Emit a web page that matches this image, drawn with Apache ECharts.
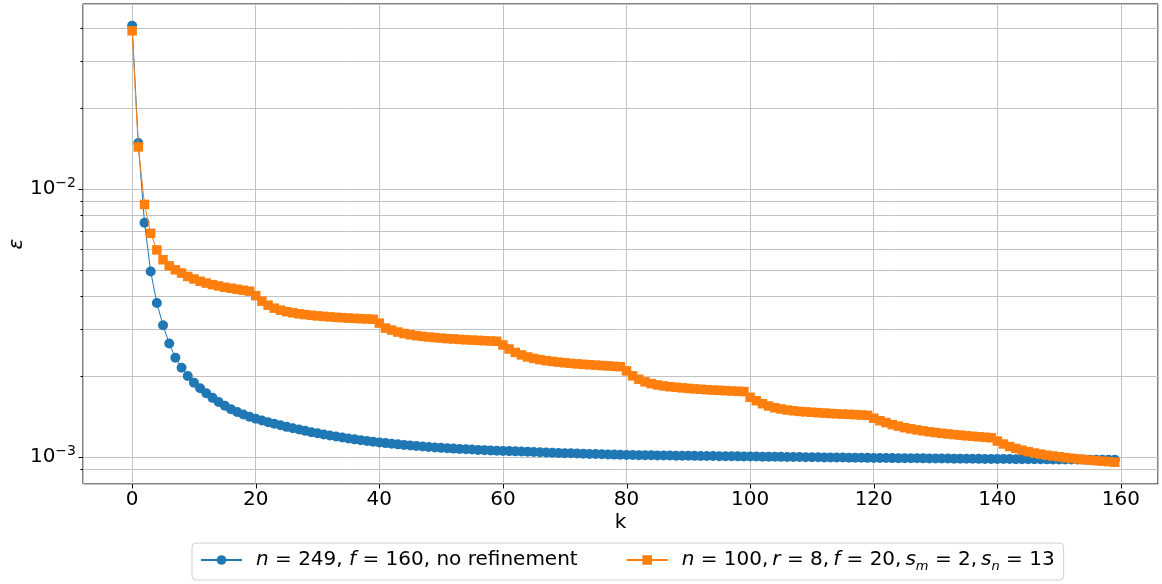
<!DOCTYPE html>
<html><head><meta charset="utf-8">
<script src="https://cdn.jsdelivr.net/npm/echarts@6/dist/echarts.min.js"></script>
<style>html,body{margin:0;padding:0;background:#fff}#c{width:1162px;height:584px}</style>
</head><body><div id="c"></div>
<script>
const seriesNames = ['n = 249, f = 160, no refinement', 'n = 100, r = 8, f = 20, s_m = 2, s_n = 13'];

const blueValues = [
0.0407, 0.01486, 0.00749, 0.004927, 0.003759, 0.003102, 0.002653, 0.002347, 0.002155, 0.002005,
0.001895, 0.001806, 0.001729, 0.001663, 0.001605, 0.001553, 0.001508, 0.001473, 0.001442, 0.001414,
0.001390, 0.001369, 0.001349, 0.001331, 0.001313, 0.001296, 0.001280, 0.001266, 0.001252, 0.001238,
0.001226, 0.001214, 0.001203, 0.001192, 0.001183, 0.001173, 0.001164, 0.001156, 0.001148, 0.001141,
0.001134, 0.001127, 0.001121, 0.001115, 0.001110, 0.001104, 0.001100, 0.001095, 0.001090, 0.001086,
0.001082, 0.001079, 0.001075, 0.001072, 0.001069, 0.001066, 0.001063, 0.001061, 0.001058, 0.001056,
0.001054, 0.001052, 0.001050, 0.001048, 0.001046, 0.001044, 0.001042, 0.001040, 0.001038, 0.001036,
0.001034, 0.0010325, 0.0010307, 0.001029, 0.0010273, 0.0010256, 0.001024, 0.0010224, 0.0010208, 0.0010192,
0.0010176, 0.001017, 0.0010162, 0.0010155, 0.0010148, 0.0010141, 0.0010134, 0.0010127, 0.001012, 0.0010113,
0.0010106, 0.00101, 0.0010093, 0.0010087, 0.0010081, 0.0010075, 0.0010069, 0.0010063, 0.0010057, 0.0010051,
0.0010045, 0.0010039, 0.0010032, 0.0010026, 0.0010019, 0.0010013, 0.0010006, 0.001, 0.0009994, 0.0009987,
0.0009981, 0.0009975, 0.0009969, 0.0009963, 0.0009957, 0.0009951, 0.0009945, 0.0009939, 0.0009933, 0.0009927,
0.0009921, 0.0009916, 0.0009912, 0.0009907, 0.0009903, 0.0009898, 0.0009894, 0.0009889, 0.0009885, 0.000988,
0.0009876, 0.0009871, 0.0009867, 0.0009862, 0.0009858, 0.0009853, 0.0009849, 0.0009844, 0.000984, 0.0009835,
0.0009831, 0.0009827, 0.0009824, 0.000982, 0.0009816, 0.0009813, 0.0009809, 0.0009805, 0.0009802, 0.0009798,
0.0009794, 0.0009791, 0.0009787, 0.0009783, 0.000978, 0.0009776, 0.0009772, 0.0009769, 0.0009765, 0.0009761
];

const orangeValues = [
0.0390, 0.01437, 0.00877, 0.00684, 0.00593, 0.00545, 0.00517, 0.0050, 0.00486, 0.00472,
0.00462, 0.00453, 0.00446, 0.0044, 0.00435, 0.0043, 0.004266, 0.00423, 0.004194, 0.00416,
0.004002, 0.003818, 0.003689, 0.003595, 0.003534, 0.003489, 0.003454, 0.003424, 0.003401, 0.003381,
0.003363, 0.003349, 0.003335, 0.003323, 0.003312, 0.003301, 0.003292, 0.003284, 0.003276, 0.003267,
0.003161, 0.00303, 0.002978, 0.002928, 0.002891, 0.002861, 0.002839, 0.00282, 0.002805, 0.002791,
0.002779, 0.002767, 0.002758, 0.002748, 0.002739, 0.002732, 0.002725, 0.002718, 0.002711, 0.002704,
0.002619, 0.002531, 0.002457, 0.002405, 0.002363, 0.002333, 0.002309, 0.002289, 0.002274, 0.00226,
0.002248, 0.002237, 0.002227, 0.002218, 0.00221, 0.002203, 0.002195, 0.002188, 0.00218, 0.002173,
0.002097, 0.002009, 0.00195, 0.001908, 0.001879, 0.001858, 0.001843, 0.00183, 0.001821, 0.001812,
0.001804, 0.001796, 0.00179, 0.001784, 0.001778, 0.001773, 0.001769, 0.001764, 0.00176, 0.001755,
0.001671, 0.001622, 0.001581, 0.00155, 0.001527, 0.001511, 0.001498, 0.001488, 0.00148, 0.001474,
0.001469, 0.001464, 0.001459, 0.001454, 0.00145, 0.001446, 0.001443, 0.001439, 0.001435, 0.001431,
0.001396, 0.001366, 0.001344, 0.001321, 0.001304, 0.001287, 0.001274, 0.001262, 0.001252, 0.001242,
0.001234, 0.001226, 0.001219, 0.001213, 0.001207, 0.0012, 0.001195, 0.00119, 0.001185, 0.00118,
0.001147, 0.001118, 0.001094, 0.001076, 0.00106, 0.001047, 0.001035, 0.001025, 0.001016, 0.001009,
0.001002, 0.000995, 0.000989, 0.000983, 0.000978, 0.000973, 0.000969, 0.000965, 0.000961, 0.000956
];

const xTickValues = [0, 20, 40, 60, 80, 100, 120, 140, 160];
const yMajorTicks = [0.001, 0.01];
const yMinorTicks = [0.0009, 0.002, 0.003, 0.004, 0.005, 0.006, 0.007, 0.008, 0.009, 0.02, 0.03, 0.04];
const xAxisName = 'k';
const yAxisName = 'ε';

const X_MIN = -7.95, X_MAX = 166, Y_MIN = 0.000793, Y_MAX = 0.0491;
const FONT = 'DejaVu Sans';
const FS = 20;
const GRIDC = '#c3c3c3';

const toPairs = arr => arr.map((v, i) => [i, v]);

const tickData = [];
xTickValues.forEach(v => tickData.push([v, yMajorTicks[0], 0]));
yMajorTicks.forEach(v => tickData.push([0, v, 1]));
yMinorTicks.forEach(v => tickData.push([0, v, 2]));

const chart = echarts.init(document.getElementById('c'), null, {renderer: 'canvas'});
chart.setOption({
  animation: false,
  backgroundColor: '#fff',
  grid: {left: 83, right: 4, top: 4, bottom: 100, containLabel: false, outerBoundsMode: 'none',
    show: true, borderColor: '#000', borderWidth: 1, backgroundColor: 'transparent'},
  xAxis: {
    type: 'value', min: X_MIN, max: X_MAX, splitNumber: 9,
    name: xAxisName, nameLocation: 'middle', nameGap: 29, nameMoveOverlap: false,
    nameTextStyle: {fontFamily: FONT, fontSize: FS, color: '#000'},
    axisLine: {show: false}, axisTick: {show: false},
    axisLabel: {margin: 6, fontFamily: FONT, fontSize: FS, color: '#000',
      formatter: v => (Math.abs(v / 20 - Math.round(v / 20)) < 1e-9 ? String(Math.round(v)) : '')},
    splitLine: {show: true, lineStyle: {color: GRIDC, width: 1}}
  },
  yAxis: {
    type: 'log', logBase: 10, min: Y_MIN, max: Y_MAX,
    name: yAxisName, nameLocation: 'middle', nameGap: 56, nameRotate: 90, nameMoveOverlap: false,
    nameTextStyle: {fontFamily: FONT, fontSize: FS, color: '#000', fontStyle: 'italic'},
    axisLine: {show: false}, axisTick: {show: false},
    axisLabel: {margin: 7, color: '#000',
      formatter: v => {
        const l = Math.log10(v);
        const r = Math.round(l);
        if (Math.abs(l - r) > 1e-6) return '';
        return '{b|10}{s|' + (r < 0 ? '\u2212' + (-r) : r) + '}';
      },
      rich: {
        b: {fontFamily: FONT, fontSize: FS, lineHeight: 26, color: '#000'},
        s: {fontFamily: FONT, fontSize: 14, lineHeight: 14, color: '#000', verticalAlign: 'top'}
      }
    },
    splitLine: {show: true, lineStyle: {color: GRIDC, width: 1}}
  },
  legend: {
    data: seriesNames,
    left: 192, top: 543,
    itemWidth: 41, itemHeight: 12, itemGap: 48,
    padding: [7, 9, 7, 8],
    borderColor: '#d0d0d0', borderWidth: 1, borderRadius: 4, backgroundColor: '#fff',
    formatter: name => name === seriesNames[0]
      ? '{i0|n}{r| = 249, }{i|f}{r| = 160, no refinement}'
      : '{i0|n}{r| = 100,\u2009}{i|r}{r| = 8,\u2009}{i|f}{r| = 20,\u2009}{i|s}{sub|m}{r| = 2,\u2009}{i|s}{sub|n}{r| = 13}',
    textStyle: {
      fontFamily: FONT, fontSize: FS, color: '#000',
      rich: {
        i0: {fontFamily: FONT, fontSize: FS, fontStyle: 'italic', lineHeight: 26, padding: [0, 0, 0, 9], color: '#000'},
        i: {fontFamily: FONT, fontSize: FS, fontStyle: 'italic', lineHeight: 26, color: '#000'},
        r: {fontFamily: FONT, fontSize: FS, lineHeight: 26, color: '#000'},
        sub: {fontFamily: FONT, fontSize: 13, fontStyle: 'italic', lineHeight: 13, verticalAlign: 'bottom', color: '#000'}
      }
    }
  },
  series: [
    {
      type: 'custom', name: '__ticks', silent: true, clip: false, z: 1,
      coordinateSystem: 'cartesian2d', encode: {x: 0, y: 1},
      data: tickData,
      renderItem: (params, api) => {
        const cs = params.coordSys;
        const kind = api.value(2);
        const p = api.coord([api.value(0), api.value(1)]);
        const st = {stroke: '#000', lineWidth: 1};
        if (kind === 0) {
          const x = Math.round(p[0]) + 0.5, b = cs.y + cs.height;
          return {type: 'line', shape: {x1: x, y1: b, x2: x, y2: b + 4.5}, style: st};
        }
        const y = Math.round(p[1]) + 0.5;
        if (kind === 1) {
          return {type: 'line', shape: {x1: cs.x - 4.5, y1: y, x2: cs.x, y2: y}, style: st};
        }
        return {type: 'group', children: [
          {type: 'line', shape: {x1: cs.x, y1: y, x2: cs.x + cs.width, y2: y}, style: {stroke: GRIDC, lineWidth: 1}},
          {type: 'line', shape: {x1: cs.x - 2.5, y1: y, x2: cs.x, y2: y}, style: st}
        ]};
      }
    },
    {
      type: 'line', name: seriesNames[0], data: toPairs(blueValues), z: 2,
      symbol: 'circle', symbolSize: 10, showSymbol: true,
      itemStyle: {color: '#1f77b4'}, lineStyle: {color: '#1f77b4', width: 1}
    },
    {
      type: 'line', name: seriesNames[1], data: toPairs(orangeValues), z: 3,
      symbol: 'rect', symbolSize: 9.5, showSymbol: true,
      itemStyle: {color: '#ff7f0e'}, lineStyle: {color: '#ff7f0e', width: 1}
    }
  ]
});
</script></body></html>
